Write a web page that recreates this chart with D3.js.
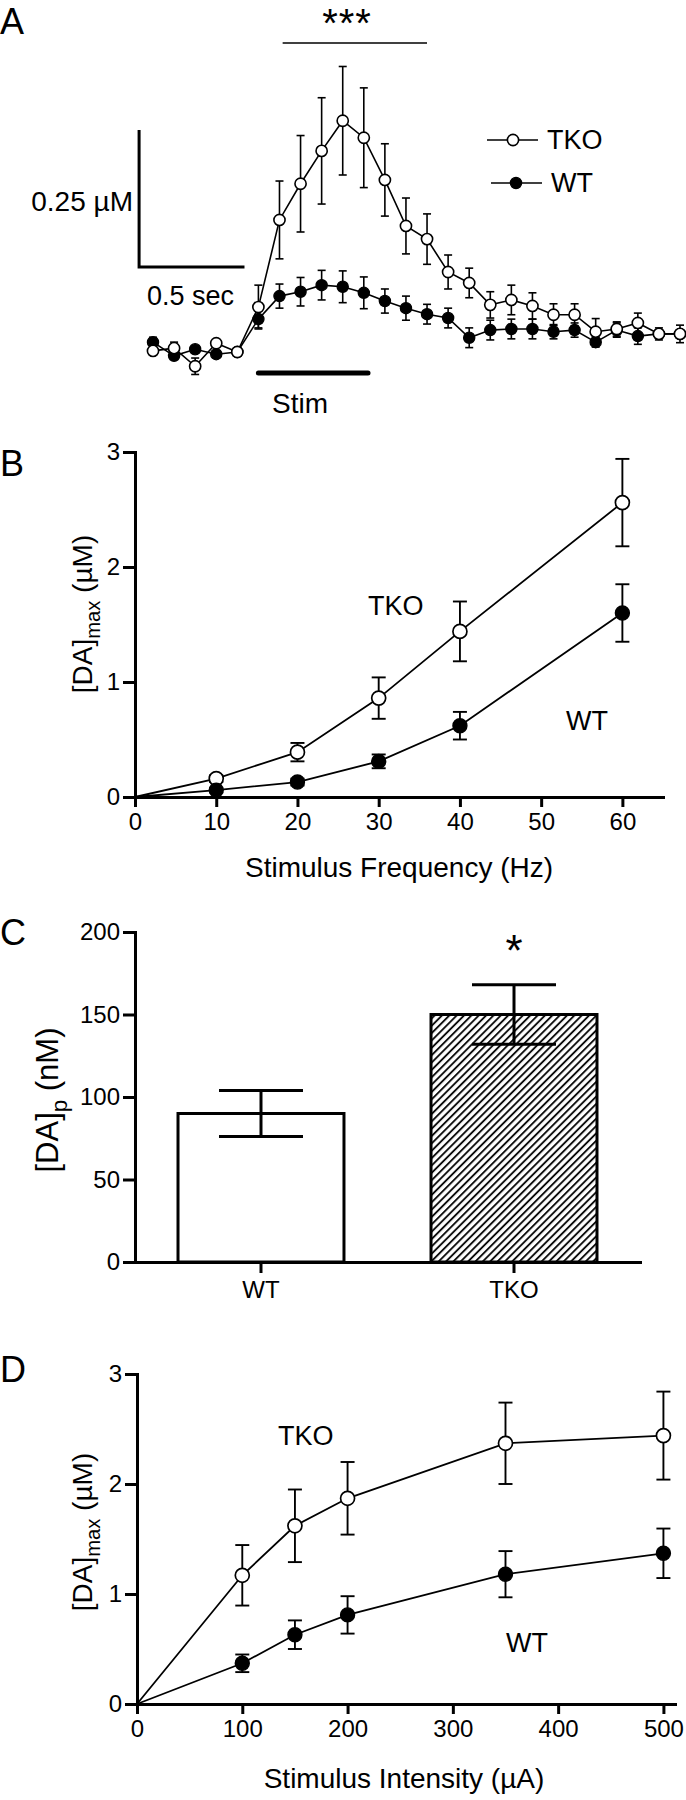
<!DOCTYPE html>
<html><head><meta charset="utf-8">
<script src="https://cdn.jsdelivr.net/npm/d3@7/dist/d3.min.js"></script>
<style>
body{margin:0;background:#fff;}
svg text{font-family:"Liberation Sans",Arial,Helvetica,sans-serif;fill:#000;}
</style></head><body>
<svg id="fig" width="686" height="1800" xmlns="http://www.w3.org/2000/svg"></svg>
<script>
// ---------- DATA ----------
// Panel A: time course (s) and [DA] (µM)
const aTime   = [0.0,0.1,0.2,0.3,0.4,0.5,0.6,0.7,0.8,0.9,1.0,1.1,1.2,1.3,1.4,1.5,1.6,1.7,1.8,1.9,2.0,2.1,2.2,2.3,2.4,2.5];
const aTKO    = [0.002,0.007,-0.026,0.016,0.000,0.082,0.241,0.307,0.367,0.422,0.391,0.314,0.230,0.206,0.146,0.126,0.086,0.095,0.084,0.068,0.068,0.037,0.042,0.053,0.033,0.033];
const aTKOerr = [0.004,0.011,0.015,0.004,0.004,0.040,0.071,0.088,0.097,0.099,0.091,0.066,0.051,0.046,0.031,0.027,0.024,0.027,0.024,0.020,0.020,0.024,0.013,0.018,0.011,0.016];
const aWT     = [0.018,-0.007,0.005,-0.004,0.000,0.060,0.102,0.110,0.122,0.119,0.108,0.093,0.080,0.069,0.062,0.026,0.040,0.042,0.042,0.037,0.040,0.018,0.040,0.029,0.033,0.033];
const aWTerr  = [0.009,0.005,0.005,0.005,0.004,0.016,0.022,0.026,0.027,0.029,0.029,0.022,0.022,0.018,0.018,0.018,0.018,0.018,0.018,0.013,0.013,0.009,0.013,0.015,0.005,0.005];
const aStim   = [0.5, 1.02];     // stimulation period (s)
const aSig    = [0.615, 1.3];    // significance bar (s)
const aScaleT = 0.5, aScaleV = 0.25;

// Panel B: frequency (Hz)
const bFreq    = [0,10,20,30,40,60];
const bTKO     = [0,0.16,0.39,0.86,1.44,2.56];
const bTKOerr  = [0,0.03,0.08,0.18,0.26,0.38];
const bWT      = [0,0.06,0.13,0.31,0.62,1.60];
const bWTerr   = [0,0.02,0.03,0.06,0.12,0.25];
const bXTicks  = [0,10,20,30,40,50,60];
const bYTicks  = [0,1,2,3];

// Panel C
const cGroups = ["WT","TKO"];
const cMean   = [90,150];
const cErr    = [14,18];
const cYTicks = [0,50,100,150,200];

// Panel D: intensity (µA)
const dInt     = [0,100,150,200,350,500];
const dTKO     = [0,1.17,1.62,1.87,2.37,2.44];
const dTKOerr  = [0,0.275,0.33,0.33,0.37,0.40];
const dWT      = [0,0.37,0.63,0.81,1.18,1.37];
const dWTerr   = [0,0.08,0.13,0.17,0.21,0.225];
const dXTicks  = [0,100,200,300,400,500];
const dYTicks  = [0,1,2,3];

// ---------- DRAW ----------
const svg = d3.select("#fig");

function panelLabel(t, x, y){
  svg.append("text").attr("x",x).attr("y",y).attr("font-size",36).text(t);
}

function errBars(g, xs, ys, es, x, y, cap, sw){
  xs.forEach((xv,i)=>{
    if(es[i] <= 0) return;
    const cx = x(xv), y1 = y(ys[i]-es[i]), y2 = y(ys[i]+es[i]);
    g.append("line").attr("x1",cx).attr("x2",cx).attr("y1",y1).attr("y2",y2)
      .attr("stroke","#000").attr("stroke-width",sw);
    [y1,y2].forEach(yy=>g.append("line").attr("x1",cx-cap).attr("x2",cx+cap)
      .attr("y1",yy).attr("y2",yy).attr("stroke","#000").attr("stroke-width",sw));
  });
}
function series(g, xs, ys, x, y, sw){
  g.append("path").datum(xs.map((v,i)=>[v,ys[i]]))
    .attr("d", d3.line().x(d=>x(d[0])).y(d=>y(d[1])))
    .attr("fill","none").attr("stroke","#000").attr("stroke-width",sw);
}
function markers(g, xs, ys, x, y, r, filled, sw, skipZero){
  xs.forEach((xv,i)=>{
    if(skipZero && xv===0) return;
    g.append("circle").attr("cx",x(xv)).attr("cy",y(ys[i])).attr("r",r)
      .attr("fill", filled ? "#000" : "#fff").attr("stroke","#000").attr("stroke-width",sw);
  });
}

// ===== Panel A =====
{
  const g = svg.append("g");
  const x = d3.scaleLinear().domain([0,2.5]).range([153,680]);
  const y = d3.scaleLinear().domain([0,0.25]).range([352,215]);
  panelLabel("A", 0, 34);

  // significance bar and stars
  g.append("line").attr("x1",x(aSig[0])).attr("x2",x(aSig[1])).attr("y1",43).attr("y2",43)
    .attr("stroke","#000").attr("stroke-width",1.6);
  g.append("text").attr("x",347).attr("y",37).attr("text-anchor","middle")
    .attr("font-size",40).attr("letter-spacing",1).text("***");

  // scale bar
  const sbT0 = -0.066, sbV0 = 0.155;
  g.append("path")
    .attr("d", `M${x(sbT0)},${y(sbV0+aScaleV)}V${y(sbV0)}H${x(sbT0+aScaleT)}`)
    .attr("fill","none").attr("stroke","#000").attr("stroke-width",3);
  g.append("text").attr("x",133).attr("y",211).attr("text-anchor","end")
    .attr("font-size",28).text("0.25 µM");
  g.append("text").attr("x",147).attr("y",305).attr("font-size",27).text("0.5 sec");

  // stim bar
  g.append("line").attr("x1",x(aStim[0])).attr("x2",x(aStim[1])).attr("y1",373).attr("y2",373)
    .attr("stroke","#000").attr("stroke-width",5).attr("stroke-linecap","round");
  g.append("text").attr("x",272).attr("y",413).attr("font-size",28).text("Stim");

  errBars(g, aTime, aWT, aWTerr, x, y, 4, 1.6);
  errBars(g, aTime, aTKO, aTKOerr, x, y, 4, 1.6);
  series(g, aTime, aWT, x, y, 1.6);
  series(g, aTime, aTKO, x, y, 1.6);
  markers(g, aTime, aWT, x, y, 5.6, true, 1.3, false);
  markers(g, aTime, aTKO, x, y, 5.6, false, 1.6, false);

  // legend
  g.append("line").attr("x1",487).attr("x2",538).attr("y1",140).attr("y2",140).attr("stroke","#000").attr("stroke-width",1.6);
  g.append("circle").attr("cx",513).attr("cy",140).attr("r",5.6).attr("fill","#fff").attr("stroke","#000").attr("stroke-width",1.6);
  g.append("text").attr("x",547).attr("y",149).attr("font-size",27).text("TKO");
  g.append("line").attr("x1",491).attr("x2",542).attr("y1",183).attr("y2",183).attr("stroke","#000").attr("stroke-width",1.6);
  g.append("circle").attr("cx",516).attr("cy",183).attr("r",5.6).attr("fill","#000").attr("stroke","#000").attr("stroke-width",1.3);
  g.append("text").attr("x",551).attr("y",192).attr("font-size",27).text("WT");
}

function styleAxis(ax){
  ax.selectAll("path.domain").attr("stroke-width",3).attr("stroke-linecap","square");
  ax.selectAll(".tick line").attr("stroke-width",3);
  ax.selectAll("text").attr("font-size",24).attr("font-family",'"Liberation Sans",Arial,sans-serif');
}

function yTitle(g, cx, cy, main, sub, rest, fs){
  const t = g.append("text").attr("transform",`translate(${cx},${cy}) rotate(-90)`)
    .attr("text-anchor","middle").attr("font-size",fs);
  t.append("tspan").text(main);
  t.append("tspan").attr("font-size",fs*0.72).attr("dy",fs*0.28).text(sub);
  t.append("tspan").attr("dy",-fs*0.28).text(rest);
}

// ===== Panel B =====
{
  const g = svg.append("g");
  const x = d3.scaleLinear().domain([0,65]).range([135,663]);
  const y = d3.scaleLinear().domain([0,3]).range([797,452]);
  panelLabel("B", 0, 476);
  const ay = g.append("g").attr("transform",`translate(${x(0)},0)`)
    .call(d3.axisLeft(y).tickValues(bYTicks).tickSize(12).tickSizeOuter(0).tickPadding(3).tickFormat(d3.format("d")));
  const ax = g.append("g").attr("transform",`translate(0,${y(0)})`)
    .call(d3.axisBottom(x).tickValues(bXTicks).tickSize(10).tickSizeOuter(0).tickPadding(6).tickFormat(d3.format("d")));
  styleAxis(ay); styleAxis(ax);
  g.append("text").attr("x",399).attr("y",877).attr("text-anchor","middle").attr("font-size",28).text("Stimulus Frequency (Hz)");
  yTitle(g, 92, 614, "[DA]", "max", " (µM)", 28);

  errBars(g, bFreq, bTKO, bTKOerr, x, y, 7, 1.9);
  errBars(g, bFreq, bWT, bWTerr, x, y, 7, 1.9);
  series(g, bFreq, bTKO, x, y, 1.8);
  series(g, bFreq, bWT, x, y, 1.8);
  markers(g, bFreq, bTKO, x, y, 7, false, 1.7, true);
  markers(g, bFreq, bWT, x, y, 7, true, 1.4, true);
  g.append("text").attr("x",368).attr("y",615).attr("font-size",27).text("TKO");
  g.append("text").attr("x",566).attr("y",730).attr("font-size",27).text("WT");
}

// ===== Panel C =====
{
  const g = svg.append("g");
  const x = d3.scaleBand().domain(cGroups).range([135,640]).paddingInner(0.344).paddingOuter(0.17);
  const y = d3.scaleLinear().domain([0,200]).range([1262,932]);
  panelLabel("C", 0, 945);

  const defs = svg.append("defs");
  const pat = defs.append("pattern").attr("id","hatch").attr("patternUnits","userSpaceOnUse")
    .attr("width",5.2).attr("height",10).attr("patternTransform","rotate(45)");
  pat.append("rect").attr("width",5.2).attr("height",10).attr("fill","#fff");
  pat.append("line").attr("x1",1).attr("x2",1).attr("y1",0).attr("y2",10)
    .attr("stroke","#000").attr("stroke-width",1.8);

  cGroups.forEach((k,i)=>{
    g.append("rect").attr("x",x(k)).attr("y",y(cMean[i])).attr("width",x.bandwidth())
      .attr("height",y(0)-y(cMean[i])).attr("fill", i===0 ? "#fff" : "url(#hatch)")
      .attr("stroke","#000").attr("stroke-width",3);
  });
  const ay = g.append("g").attr("transform",`translate(135,0)`)
    .call(d3.axisLeft(y).tickValues(cYTicks).tickSize(12).tickSizeOuter(0).tickPadding(3));
  const ax = g.append("g").attr("transform",`translate(0,${y(0)})`)
    .call(d3.axisBottom(x).tickSize(11).tickSizeOuter(0).tickPadding(8));
  styleAxis(ay); styleAxis(ax);
  // error bars
  const cx = cGroups.map(k=>x(k)+x.bandwidth()/2);
  cGroups.forEach((k,i)=>{
    const xc = cx[i], y1 = y(cMean[i]-cErr[i]), y2 = y(cMean[i]+cErr[i]);
    g.append("line").attr("x1",xc).attr("x2",xc).attr("y1",y1).attr("y2",y2).attr("stroke","#000").attr("stroke-width",3);
    [y1,y2].forEach(yy=>g.append("line").attr("x1",xc-42).attr("x2",xc+42).attr("y1",yy).attr("y2",yy)
      .attr("stroke","#000").attr("stroke-width",3));
  });
  g.append("text").attr("x",cx[1]).attr("y",966).attr("text-anchor","middle").attr("font-size",44).text("*");
  yTitle(g, 58, 1100, "[DA]", "p", " (nM)", 31);
}

// ===== Panel D =====
{
  const g = svg.append("g");
  const x = d3.scaleLinear().domain([0,511]).range([137,675]);
  const y = d3.scaleLinear().domain([0,3]).range([1704,1374]);
  panelLabel("D", 0, 1382);
  const ay = g.append("g").attr("transform",`translate(${x(0)},0)`)
    .call(d3.axisLeft(y).tickValues(dYTicks).tickSize(12).tickSizeOuter(0).tickPadding(3).tickFormat(d3.format("d")));
  const ax = g.append("g").attr("transform",`translate(0,${y(0)})`)
    .call(d3.axisBottom(x).tickValues(dXTicks).tickSize(10).tickSizeOuter(0).tickPadding(6).tickFormat(d3.format("d")));
  styleAxis(ay); styleAxis(ax);
  g.append("text").attr("x",404).attr("y",1788).attr("text-anchor","middle").attr("font-size",28).text("Stimulus Intensity (µA)");
  yTitle(g, 92, 1532, "[DA]", "max", " (µM)", 28);

  errBars(g, dInt, dTKO, dTKOerr, x, y, 7, 1.9);
  errBars(g, dInt, dWT, dWTerr, x, y, 7, 1.9);
  series(g, dInt, dTKO, x, y, 1.8);
  series(g, dInt, dWT, x, y, 1.8);
  markers(g, dInt, dTKO, x, y, 7, false, 1.7, true);
  markers(g, dInt, dWT, x, y, 7, true, 1.4, true);
  g.append("text").attr("x",278).attr("y",1445).attr("font-size",27).text("TKO");
  g.append("text").attr("x",506).attr("y",1652).attr("font-size",27).text("WT");
}
</script></body></html>
